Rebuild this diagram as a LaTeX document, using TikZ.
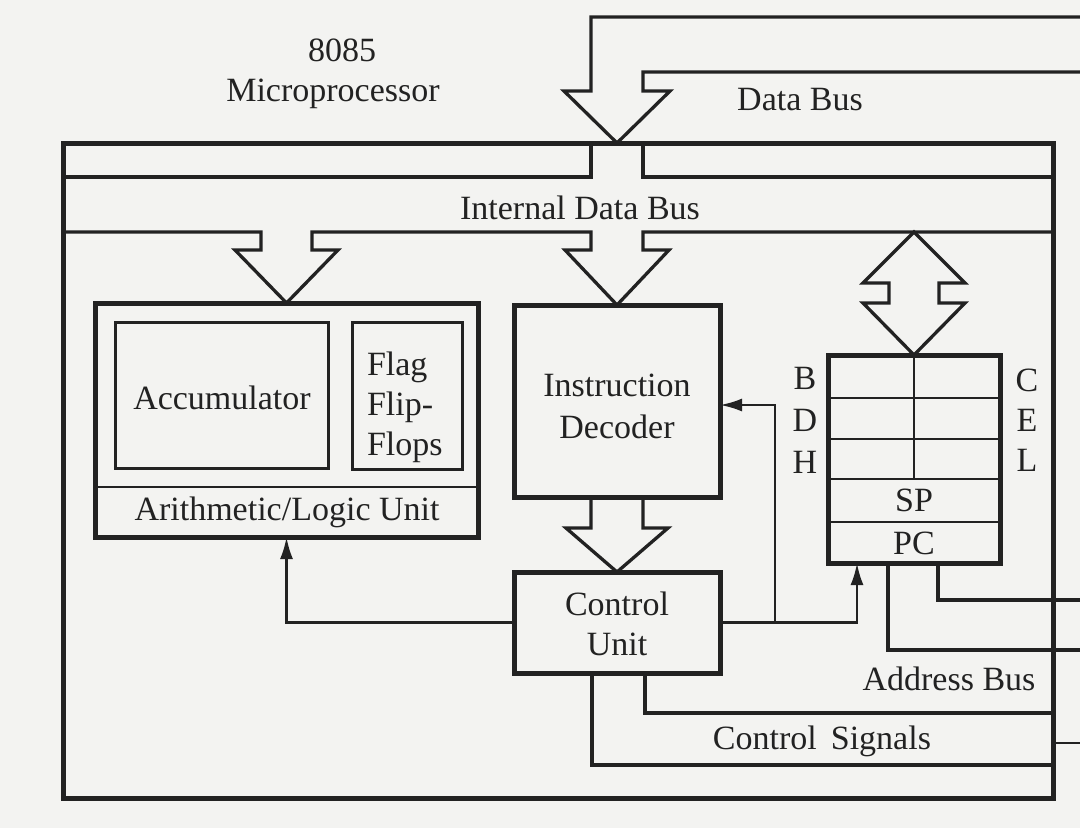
\documentclass[tikz,border=0pt]{standalone}
\usepackage{fontspec}
\setmainfont{Liberation Serif}
\usetikzlibrary{arrows.meta}
\definecolor{ink}{RGB}{34,34,34}
\definecolor{paper}{RGB}{243,243,241}
\newcommand{\figfont}{\fontsize{34}{41}\selectfont}
\tikzset{
  lbl/.style={inner sep=0pt, outer sep=0pt, text=ink, font=\figfont},
  heavybox/.style={draw=ink, line width=5pt, inner sep=0pt, outer sep=0pt, text=ink, font=\figfont, align=center},
  lightbox/.style={draw=ink, line width=3pt, inner sep=0pt, outer sep=0pt, text=ink, font=\figfont, align=center},
  bus/.style={draw=ink, line width=3.3pt, line join=miter},
  wire/.style={draw=ink, line width=2.6pt},
  wirearrow/.style={wire, -{Latex[length=22pt,width=13pt]}},
}
\begin{document}
\begin{tikzpicture}[x=1pt,y=-1pt]
\fill[paper] (0,0) rectangle (1080,828);
\useasboundingbox (0,0) rectangle (1080,828);

% titles
\node[lbl] (n8085) at (342,50) {8085};
\node[lbl] (nmicro) at (333,94) {Microprocessor};
\node[lbl] (dbus) at (800,100) {Data Bus};

% outer processor box
\node[heavybox, minimum width=990pt, minimum height=655pt] (cpu) at (558,470.5) {};
\node[lbl] (idbus) at (580,208) {Internal Data Bus};

% ALU
\node[heavybox, minimum width=383pt, minimum height=234pt] (alu) at (286.5,420) {};
\node[lightbox, minimum width=213pt, minimum height=146pt] (acc) at (221.5,395) {};
\node[lbl] (acctxt) at (222,398) {Accumulator};
\node[lightbox, minimum width=110pt, minimum height=147pt] (flag) at (407,395.5) {};
\node[lbl, anchor=west, align=left, font=\fontsize{34}{40}\selectfont] (flagtxt) at (367,407) {Flag\\Flip-\\Flops};
\draw[wire] (alu.west |- 0,487) -- (alu.east |- 0,487);
\node[lbl] (alutxt) at (287,512) {Arithmetic/Logic Unit};

% instruction decoder and control unit
\node[heavybox, minimum width=206pt, minimum height=192pt] (id) at (617,401) {};
\node[lbl, align=center, font=\fontsize{34}{42}\selectfont] (idtxt) at (617,406) {Instruction\\Decoder};
\node[heavybox, minimum width=206pt, minimum height=101pt] (cu) at (617,622.5) {};
\node[lbl, align=center, font=\fontsize{34}{40}\selectfont] (cutxt) at (617,624) {Control\\Unit};

% register array
\node[heavybox, minimum width=172pt, minimum height=208pt] (regs) at (914,459) {};
\draw[wire] (regs.west |- 0,398) -- (regs.east |- 0,398);
\draw[wire] (regs.west |- 0,439) -- (regs.east |- 0,439);
\draw[wire] (regs.west |- 0,479) -- (regs.east |- 0,479);
\draw[wire] (regs.west |- 0,522) -- (regs.east |- 0,522);
\draw[wire] (regs.north) -- (914,479);
\node[lbl] (rB) at (805,378) {B};
\node[lbl] (rD) at (805,420) {D};
\node[lbl] (rH) at (805,462) {H};
\node[lbl] (rC) at (1027,380) {C};
\node[lbl] (rE) at (1027,420) {E};
\node[lbl] (rL) at (1027,460) {L};
\node[lbl] (rSP) at (914,500) {SP};
\node[lbl] (rPC) at (914,543) {PC};

% external data bus into the processor
\draw[bus] (1080,17) -- (591,17) -- (591,91) -- (564,91) -- (617,143) -- (670,91) -- (643,91) -- (643,72) -- (1080,72);
% internal data bus
\draw[bus] (591,143) -- (591,177) -- (cpu.west |- 0,177);
\draw[bus] (643,143) -- (643,177) -- (cpu.east |- 0,177);
\draw[bus] (cpu.west |- 0,232) -- (261,232) -- (261,250) -- (235,250) -- (alu.north)
  -- (338,250) -- (312,250) -- (312,232) -- (591,232) -- (591,250) -- (565,250) -- (id.north)
  -- (669,250) -- (643,250) -- (643,232) -- (cpu.east |- 0,232);
% two-way bus to registers
\draw[bus] (914,232) -- (965,283) -- (939,283) -- (939,303) -- (965,303) -- (regs.north)
  -- (863,303) -- (889,303) -- (889,283) -- (863,283) -- cycle;
% decoder to control unit
\draw[bus] (591,497) -- (591,528) -- (566,528) -- (cu.north) -- (668,528) -- (643,528) -- (643,497);

% control connections
\coordinate (rin) at (857,563);
\coordinate (tap) at (775,622.5);
\coordinate (idin) at (720,405);
\draw[wirearrow] (cu.west) -| (alu.south);
\draw[wirearrow] (cu.east) -| (rin);
\draw[wirearrow] (tap) |- (idin);

% address bus
\coordinate (pcA) at (888,563);
\coordinate (pcB) at (938,563);
\coordinate (abA) at (1080,650);
\coordinate (abB) at (1080,600);
\draw[bus] (pcA) |- (abA);
\draw[bus] (pcB) |- (abB);
\node[lbl] (abl) at (949,679) {Address Bus};

% control signals
\coordinate (cuA) at (592,673);
\coordinate (cuB) at (645,673);
\coordinate (csA) at (1053,765);
\coordinate (csB) at (1053,713);
\draw[bus] (cuA) |- (csA);
\draw[bus] (cuB) |- (csB);
\coordinate (csedge) at (1053,743);
\coordinate (csout) at (1080,743);
\draw[wire] (csedge) -- (csout);
\node[lbl] (csl) at (822,741) {Control\hspace{14pt}Signals};
\end{tikzpicture}
\end{document}
